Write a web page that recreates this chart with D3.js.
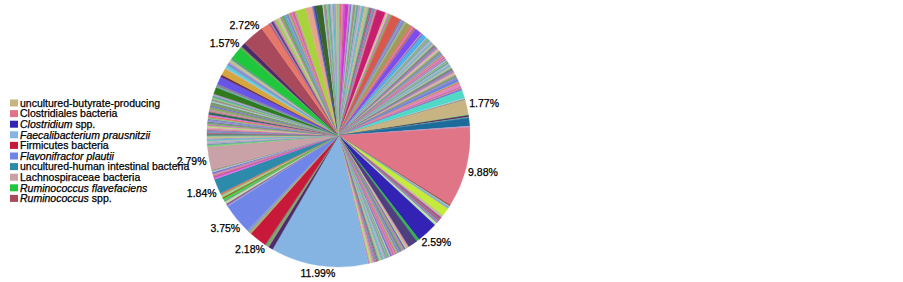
<!DOCTYPE html>
<html>
<head>
<meta charset="utf-8">
<script src="https://cdn.jsdelivr.net/npm/d3@7"></script>
<style>
  body { margin: 0; background: #fff; }
  text { font-family: "Liberation Sans", Arial, sans-serif; }
</style>
</head>
<body>
<svg id="chart" width="903" height="282"></svg>
<script>
// named taxa, legend order
const taxa = [
  "uncultured-butyrate-producing",
  "Clostridiales bacteria",
  "Clostridium spp.",
  "Faecalibacterium prausnitzii",
  "Firmicutes bacteria",
  "Flavonifractor plautii",
  "uncultured-human intestinal bacteria",
  "Lachnospiraceae bacteria",
  "Ruminococcus flavefaciens",
  "Ruminococcus spp."
];
// part of each name set in italics
const taxaItalic = ["", "", "Clostridium", "Faecalibacterium prausnitzii", "",
  "Flavonifractor plautii", "", "", "Ruminococcus flavefaciens", "Ruminococcus"];
const taxaShare = [1.77, 9.88, 2.59, 11.99, 2.18, 3.75, 1.84, 2.79, 1.57, 2.72];
const taxaColors = ["#c8b483", "#e07588", "#3323b5", "#85b4e3", "#c8193a",
  "#6f86e8", "#2c8aab", "#c8a2a6", "#1ec73c", "#a84a5c"];

// all slices clockwise from 12 o'clock
// number = unnamed OTU share (%), [share, colour] = unnamed with its own colour, string = named taxon
const slices = [
  0.2, 0.15, 0.25, 0.18, [0.45, "#d034d6"], 0.2, 0.16, 0.22, 0.3, 0.14, 0.2, 0.25, 0.18, 0.2, 0.15, 0.3, 0.22, 0.17, 0.2, 0.2, 0.18, 0.22,
  [1.1, "#c81e6e"],
  0.2, 0.15, 0.28, 0.2,
  [1.1, "#d9574d"],
  0.18, 0.25, 0.2, 0.2,
  [0.7, "#a39b5b"],
  0.22, 0.15, 0.32,
  [0.83, "#7b4cf0"],
  0.13, 0.15,
  [0.55, "#4fb0e6"],
  0.12, 0.15, 0.1, 0.14, 0.18, 0.11, 0.13, 0.16, 0.1, 0.12,
  0.14, 0.11, 0.17, 0.12, 0.1, 0.15, 0.13, 0.11, 0.14, 0.12,
  0.16, 0.1, 0.13, 0.12, 0.15, 0.11, 0.14, 0.1, 0.13, 0.12,
  0.11, 0.15, 0.12, 0.1, 0.14, 0.13, 0.11, 0.12, 0.16, 0.1,
  0.13, 0.12, 0.11, 0.14, 0.1, 0.12, 0.15, 0.11, 0.13, 0.12,
  [0.3, "#6a7ae8"], 0.12, 0.14, [0.35, "#e088b8"], 0.11, 0.13, 0.12, 0.18,
  [0.97, "#4fd9c6"],
  0.12, 0.16,
  "uncultured-butyrate-producing",
  0.1, [0.2, "#5a2a5a"], 0.14,
  [0.97, "#1d6b9b"],
  0.14,
  "Clostridiales bacteria",
  [0.12, "#7a3a2a"], 0.15, 0.1, 0.16,
  [0.97, "#c4ea3a"],
  0.2, 0.15, [0.18, "#e020a0"], 0.14, 0.2, 0.16, 0.18, [0.33, "#b8e8a0"],
  "Clostridium spp.",
  [0.33, "#2fb84a"],
  [1.2, "#4e3f7e"], 0.15, 0.2, 0.12, [0.18, "#4a7a9a"], 0.25, 0.14, 0.2, 0.12, 0.16, 0.22,
  0.13, 0.18, 0.12, 0.15, 0.2, 0.14, 0.17, 0.12, 0.15, 0.19, 0.13, 0.16, 0.12, 0.15, 0.2,
  0.14, 0.12, 0.16, 0.13, 0.18, 0.13, 0.25, 0.15,
  "Faecalibacterium prausnitzii",
  [0.55, "#4d2c6e"],
  [0.15, "#9a8a6a"], 0.2, 0.15,
  "Firmicutes bacteria",
  [0.2, "#b8a27a"], [0.15, "#7ab85a"], 0.25,
  "Flavonifractor plautii",
  [0.12, "#8fb4e0"], [0.25, "#9a5aa0"], [0.3, "#b8e09a"], 0.15, [0.25, "#3ad83a"], [0.18, "#8a6a2a"], [0.2, "#a0d880"], 0.15, 0.2,
  "uncultured-human intestinal bacteria",
  0.15, [0.2, "#d050c0"], 0.12, 0.25, 0.18, 0.14, 0.18,
  "Lachnospiraceae bacteria",
  0.2, 0.15, 0.18, 0.22, 0.12, 0.16, 0.2, 0.14, 0.25, 0.13,
  0.18, 0.15, 0.2, 0.12, 0.17, 0.22, 0.14, 0.16, 0.19, 0.13,
  0.2, 0.15, 0.18, [0.3, "#2a6a5a"], 0.14, 0.16, [0.35, "#8aa86a"], 0.2, [0.4, "#7a9a6a"], 0.15,
  0.25, 0.18, 0.22, 0.24,
  [0.83, "#2f7a1c"],
  [0.12, "#5ab0c8"], [0.3, "#8a8a8a"],
  [0.97, "#6655e8"],
  [0.28, "#6a2a4a"],
  [0.83, "#d6a63c"],
  0.15, [0.25, "#5ad0e0"], 0.12, [0.3, "#8a8ad0"], 0.15, 0.22, 0.18, 0.17,
  "Ruminococcus flavefaciens",
  [0.24, "#7a9a5a"],
  [0.55, "#4a2a6a"],
  "Ruminococcus spp.",
  [1.03, "#e6786a"],
  0.2, 0.15, [0.25, "#6a3a7a"], 0.12, 0.18, [0.3, "#9ad05a"], 0.14, 0.2, 0.16, 0.22, 0.13, [0.25, "#5ab0b0"], 0.18, 0.15, 0.2, 0.16, 0.2, 0.2, 0.2,
  [1.25, "#a6d43a"],
  [0.83, "#e3a48a"],
  0.2, [0.22, "#2a4aa0"],
  [0.83, "#3b6526"],
  0.15, 0.2, [0.12, "#9a7ab0"], 0.25, 0.18, 0.14, 0.2, 0.16, 0.22, 0.13, 0.19
];

// colours cycled over the plain small slices
const palette = ["#8fbc8f", "#c77dbb", "#6a9ab8", "#9a9ad0", "#7fd07f", "#b87070", "#9090e0",
  "#e0a0c0", "#5a8a7a", "#b8b8b8", "#a0d0e0", "#e07050", "#70b050", "#a070c0", "#c8c080",
  "#60a0a0", "#d08ab0", "#8080b0", "#b0e070", "#c05080", "#50c0c0", "#a09080", "#e870e8",
  "#708090", "#d09090", "#90c0a0", "#b0a0d0", "#7a70c8"];

const svg = d3.select("#chart");
const cx = 338.5, cy = 135.5, R = 131.5;

let k = 0;
const data = slices.map(s => {
  if (typeof s === "string") {
    const i = taxa.indexOf(s);
    return { value: taxaShare[i], color: taxaColors[i], label: taxaShare[i].toFixed(2) + "%" };
  }
  if (Array.isArray(s)) return { value: s[0], color: s[1] };
  const c = palette[(k * 11) % palette.length];
  k++;
  return { value: s, color: c };
});

const pie = d3.pie().sort(null).value(d => d.value);
const arc = d3.arc().innerRadius(0).outerRadius(R);
const arcs = pie(data);

const g = svg.append("g").attr("transform", `translate(${cx},${cy})`);

g.selectAll("path")
  .data(arcs)
  .enter()
  .append("path")
  .attr("d", arc)
  .attr("fill", d => d.data.color)
  .attr("stroke", d => d.data.color)
  .attr("stroke-width", 0.4);

// --- percent labels just outside the named slices ---
arcs.filter(d => d.data.label).forEach(d => {
  const a = (d.startAngle + d.endAngle) / 2;
  const s = Math.sin(a), c = Math.cos(a);
  const t = g.append("text")
    .attr("text-anchor", "middle")
    .style("font-size", "10.5px")
    .attr("fill", "#000")
    .attr("stroke", "#000")
    .attr("stroke-width", 0.25)
    .text(d.data.label);
  const w = t.node().getComputedTextLength();
  const h = 9;
  const ext = Math.sqrt(Math.pow(w / 2 * s, 2) + Math.pow(h / 2 * c, 2));
  const r = R + 3 + ext;
  t.attr("x", r * s).attr("y", -r * c + 3.8);
});

// --- legend ---
const leg = svg.append("g");
taxa.forEach((name, i) => {
  const y = 103 + i * 10.6;
  leg.append("rect")
    .attr("x", 10).attr("y", y - 3.5)
    .attr("width", 8).attr("height", 7)
    .attr("fill", taxaColors[i]);
  const t = leg.append("text")
    .attr("x", 20).attr("y", y + 3.8)
    .style("font-size", "10.5px")
    .attr("fill", "#000")
    .attr("stroke", "#000")
    .attr("stroke-width", 0.25);
  const it = taxaItalic[i];
  if (it) {
    t.append("tspan").style("font-style", "italic").text(it);
    const rest = name.slice(it.length);
    if (rest) t.append("tspan").text(rest);
  } else {
    t.text(name);
  }
});
</script>
</body>
</html>
